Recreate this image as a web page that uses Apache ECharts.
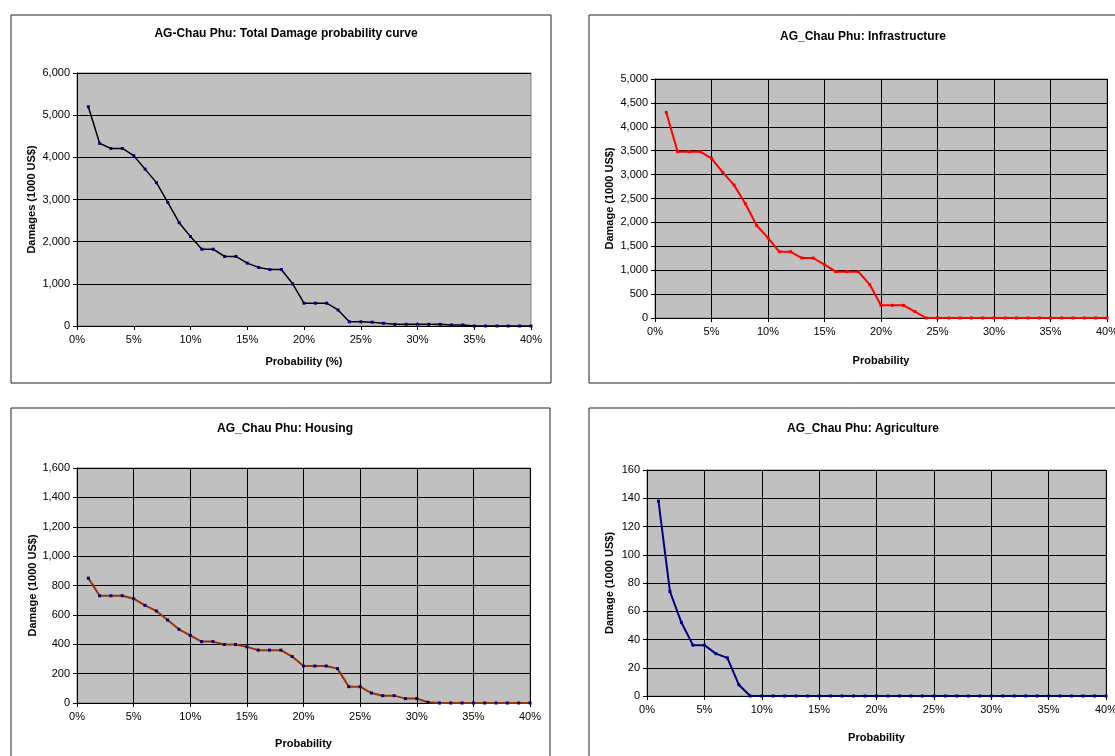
<!DOCTYPE html>
<html>
<head>
<meta charset="utf-8">
<script src="https://cdn.jsdelivr.net/npm/echarts@6/dist/echarts.min.js"></script>
<style>
  html, body { margin: 0; padding: 0; background: #fff; }
  #chart { width: 1115px; height: 756px; }
</style>
</head>
<body>
<div id="chart"></div>
<script>
// probability (%) for every point
var probability = [1, 2, 3, 4, 5, 6, 7, 8, 9, 10, 11, 12, 13, 14, 15, 16, 17, 18, 19, 20,
  21, 22, 23, 24, 25, 26, 27, 28, 29, 30, 31, 32, 33, 34, 35, 36, 37, 38, 39, 40];

// damages (1000 US$)
var totalDamage = [5200, 4330, 4210, 4210, 4040, 3720, 3400, 2930, 2450, 2120, 1820, 1820, 1650, 1650, 1490, 1390, 1340, 1340, 1000, 540,
  540, 540, 380, 100, 100, 90, 65, 40, 40, 40, 40, 40, 25, 25, 0, 0, 0, 0, 0, 0];
var infrastructure = [4300, 3480, 3480, 3480, 3340, 3045, 2780, 2390, 1935, 1675, 1385, 1385, 1255, 1255, 1115, 970, 970, 970, 700, 265,
  265, 265, 135, 0, 0, 0, 0, 0, 0, 0, 0, 0, 0, 0, 0, 0, 0, 0, 0, 0];
var housing = [850, 730, 730, 730, 710, 665, 627, 565, 502, 460, 418, 418, 398, 398, 382, 360, 360, 360, 316, 252,
  252, 252, 234, 111, 111, 68, 50, 50, 30, 30, 5, 0, 0, 0, 0, 0, 0, 0, 0, 0];
var agriculture = [138, 74, 52, 36, 36, 30, 27, 8, 0, 0, 0, 0, 0, 0, 0, 0, 0, 0, 0, 0,
  0, 0, 0, 0, 0, 0, 0, 0, 0, 0, 0, 0, 0, 0, 0, 0, 0, 0, 0, 0];

var titles = ['AG-Chau Phu: Total Damage probability curve', 'AG_Chau Phu: Infrastructure',
  'AG_Chau Phu: Housing', 'AG_Chau Phu: Agriculture'];
var yNames = ['Damages (1000 US$)', 'Damage (1000 US$)', 'Damage (1000 US$)', 'Damage (1000 US$)'];
var xNames = ['Probability (%)', 'Probability', 'Probability', 'Probability'];
var yMax = [6000, 5000, 1600, 160];
var yStep = [1000, 500, 200, 20];

function pairs(values) {
  return probability.map(function (p, i) { return [p, values[i]]; });
}

var font = 'Arial, "Liberation Sans", sans-serif';
var mychart = echarts.init(document.getElementById('chart'));

// panel boxes and plot areas
var boxes = [
  { x: 11, y: 15, w: 540, h: 368 },
  { x: 589, y: 15, w: 540, h: 368 },
  { x: 11, y: 408, w: 539, h: 360 },
  { x: 589, y: 408, w: 540, h: 360 }
];
var grids = [
  { left: 77, top: 73, width: 454, height: 253 },
  { left: 655, top: 79, width: 452, height: 239 },
  { left: 77, top: 468, width: 453, height: 235 },
  { left: 647, top: 470, width: 459, height: 226 }
];
var titlePos = [[281, 23], [858, 26], [280, 418], [858, 418]];
var yNamePos = [31, 609, 32, 609];
var xNameY = [362, 361, 744, 738];

var option = {
  animation: false,
  backgroundColor: '#fff',
  graphic: boxes.map(function (b) {
    return { type: 'rect', shape: { x: b.x, y: b.y, width: b.w, height: b.h },
      style: { fill: '#fff', stroke: '#222', lineWidth: 1 }, z: -10 };
  }),
  title: titles.map(function (t, i) {
    return { text: t, left: titlePos[i][0], top: titlePos[i][1], textAlign: 'center',
      textStyle: { fontFamily: font, fontSize: 12, fontWeight: 'bold', color: '#000' } };
  }),
  grid: grids.map(function (g) {
    return { left: g.left, top: g.top, width: g.width, height: g.height,
      outerBoundsMode: 'none', containLabel: false,
      show: true, backgroundColor: '#c0c0c0', borderColor: '#808080', borderWidth: 1 };
  }),
  xAxis: grids.map(function (g, i) {
    return {
      type: 'value', gridIndex: i, min: 0, max: 40, interval: 5,
      name: xNames[i], nameLocation: 'middle', nameGap: xNameY[i] - g.top - g.height - 6,
      nameTextStyle: { fontFamily: font, fontSize: 11, fontWeight: 'bold', color: '#000' },
      axisLine: { onZero: false, lineStyle: { color: '#000', width: 1 } },
      axisTick: { show: true, inside: false, length: 4, lineStyle: { color: '#000' } },
      axisLabel: { formatter: '{value}%', fontFamily: font, fontSize: 11, color: '#000', margin: 8 },
      splitLine: { show: i !== 0, lineStyle: { color: '#000', width: 1 } }
    };
  }),
  yAxis: grids.map(function (g, i) {
    return {
      type: 'value', gridIndex: i, min: 0, max: yMax[i], interval: yStep[i],
      name: yNames[i], nameLocation: 'middle', nameRotate: 90,
      nameGap: g.left - yNamePos[i] - 6,
      nameTextStyle: { fontFamily: font, fontSize: 11, fontWeight: 'bold', color: '#000' },
      axisLine: { show: true, lineStyle: { color: '#000', width: 1 } },
      axisTick: { show: true, inside: false, length: 4, lineStyle: { color: '#000' } },
      axisLabel: {
        fontFamily: font, fontSize: 11, color: '#000', margin: 7,
        formatter: function (v) { return v.toLocaleString('en-US'); }
      },
      splitLine: { show: true, lineStyle: { color: '#000', width: 1 } }
    };
  }),
  series: [
    { type: 'line', xAxisIndex: 0, yAxisIndex: 0, data: pairs(totalDamage),
      lineStyle: { color: '#000', width: 1.5 }, symbol: 'rect', symbolSize: 3,
      itemStyle: { color: '#000080' } },
    { type: 'line', xAxisIndex: 1, yAxisIndex: 1, data: pairs(infrastructure),
      lineStyle: { color: '#ff0000', width: 2 }, symbol: 'rect', symbolSize: 3,
      itemStyle: { color: '#ff0000' } },
    { type: 'line', xAxisIndex: 2, yAxisIndex: 2, data: pairs(housing),
      lineStyle: { color: '#993300', width: 2 }, symbol: 'rect', symbolSize: 3,
      itemStyle: { color: '#000080' } },
    { type: 'line', xAxisIndex: 3, yAxisIndex: 3, data: pairs(agriculture),
      lineStyle: { color: '#000080', width: 2 }, symbol: 'rect', symbolSize: 3,
      itemStyle: { color: '#000080' } }
  ]
};

// draw
mychart.setOption(option);
</script>
</body>
</html>
